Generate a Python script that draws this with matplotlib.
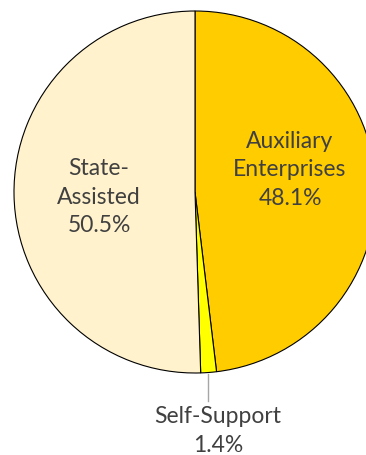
import matplotlib.pyplot as plt

labels = ["Auxiliary\nEnterprises", "Self-Support", "State-\nAssisted"]
shares = [48.1, 1.4, 50.5]
colors = ["#FFCC00", "#FFFF00", "#FFF2CC"]

plt.rcParams["font.family"] = ["Lato", "DejaVu Sans"]

fig = plt.figure(figsize=(3.66, 4.56), dpi=100)
ax = fig.add_axes([0, 0, 1, 1])

cx, cy, r = 195, 263, 181
ax.pie(shares, colors=colors, startangle=90, counterclock=False,
       center=(cx, cy), radius=r, frame=True,
       wedgeprops=dict(edgecolor="black", linewidth=0.8))
ax.set_xlim(0, 366)
ax.set_ylim(0, 456)
ax.set_aspect("equal")
ax.axis("off")

txt = dict(ha="center", va="center", color="#404040", fontsize=16.5,
           linespacing=1.42)
ax.text(290, 456 - 170, f"{labels[0]}\n{shares[0]}%", **txt)
ax.text(99, 456 - 197, f"{labels[2]}\n{shares[2]}%", **txt)
ax.plot([208, 208], [456 - 375, 456 - 402], color="#A6A6A6", linewidth=1)
ax.text(218, 456 - 431, f"{labels[1]}\n{shares[1]}%", **txt)

fig.savefig("out.png", dpi=100)
